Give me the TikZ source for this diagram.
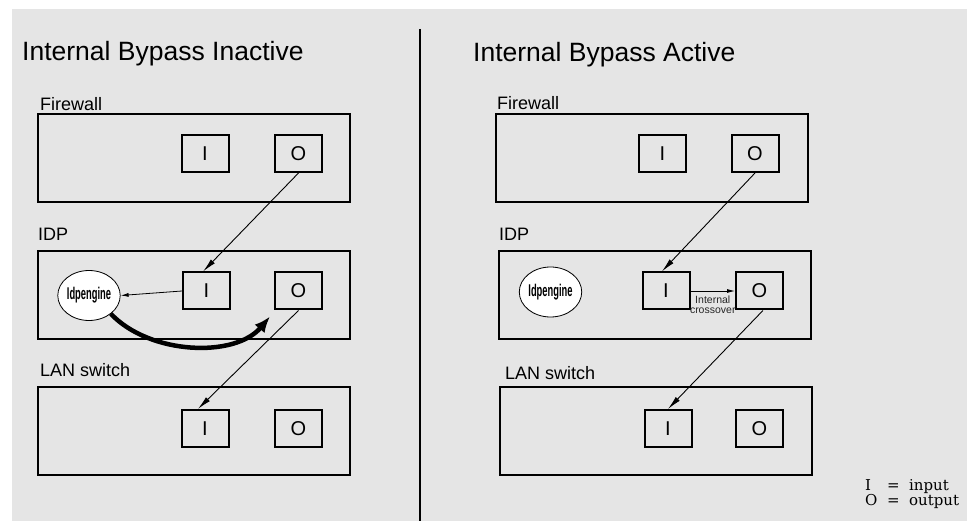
\documentclass[tikz,border=0pt]{standalone}
\usepackage{graphicx}
\usepackage{fontspec}
\setmainfont{Liberation Sans}
\newfontfamily\legendfont{DejaVu Serif}
\usetikzlibrary{arrows.meta, positioning, shapes.geometric}

\begin{document}
\begin{tikzpicture}[x=1pt, y=-1pt,
    device/.style={draw, line width=2pt, minimum width=312pt, minimum height=88pt, inner sep=0pt},
    port/.style={draw, line width=2pt, minimum width=47pt, minimum height=37pt, inner sep=0pt, font=\fontsize{20}{20}\selectfont},
    engine/.style={draw, ellipse, fill=white, line width=0.8pt, minimum width=62pt, minimum height=50pt, inner sep=0pt, font=\fontsize{17}{17}\selectfont\bfseries},
    devlabel/.style={inner sep=0pt, font=\fontsize{18}{18}\selectfont},
    title/.style={inner sep=0pt, anchor=base west, font=\fontsize{26.5}{26.5}\selectfont},
    link/.style={-{Latex[length=14pt,width=5.5pt]}, line width=0.9pt},
    shortlink/.style={-{Latex[length=8pt,width=4pt]}, line width=0.8pt},
    bypass/.style={-{Latex[length=16pt,width=13pt]}, line width=4.5pt}
]
\useasboundingbox (0,0) rectangle (967,521);
\fill[white] (0,0) rectangle (967,521);
\fill[black!10] (12,9) rectangle (967,521);

% Divider between the two cases
\draw[line width=2pt] (420,29) -- (420,521);

% Left: bypass inactive
\node[title] (title0) at (22,61) {Internal Bypass Inactive};

\node[device] (fw0) at (194,158.5) {};
\node[devlabel, above right=3pt and 3pt of fw0.north west] (fwlbl0) {Firewall};
\node[port] (fwI0) at (205,153.5) {I};
\node[port] (fwO0) at (298.5,153.5) {O};

\node[device] (idp0) at (194,295) {};
\node[devlabel, above right=9pt and 1pt of idp0.north west] (idplbl0) {IDP};
\node[port] (idpI0) at (206.5,291) {I};
\node[port] (idpO0) at (298.5,291) {O};
\node[engine] (eng0) at (89,295.5) {\scalebox{0.55}[1]{Idpengine}};

\node[device] (lan0) at (194,431) {};
\node[devlabel, above right=9pt and 3pt of lan0.north west] (lanlbl0) {LAN switch};
\node[port] (lanI0) at (205,428.5) {I};
\node[port] (lanO0) at (298.5,428.5) {O};

\draw[link] (fwO0.south) -- (idpI0.100);
\draw[shortlink] (idpI0.west) -- (eng0.east);
\draw[bypass] (eng0.-40) .. controls (150,355) and (235,358) .. ([shift={(-4,6)}]idpO0.south west);
\draw[link] (idpO0.south) -- (lanI0.110);

% Right: bypass active
\node[title] (title1) at (473,62) {Internal Bypass Active};

\node[device] (fw1) at (652,158.5) {};
\node[devlabel, above right=4pt and 2pt of fw1.north west] (fwlbl1) {Firewall};
\node[port] (fwI1) at (662.5,153.5) {I};
\node[port] (fwO1) at (755,153.5) {O};

\node[device] (idp1) at (655,295) {};
\node[devlabel, above right=9pt and 1pt of idp1.north west] (idplbl1) {IDP};
\node[port] (idpI1) at (666,291) {I};
\node[port] (idpO1) at (759.5,291) {O};
\node[engine] (eng1) at (550.5,292) {\scalebox{0.55}[1]{Idpengine}};

\node[device] (lan1) at (656,431) {};
\node[devlabel, above right=6pt and 6pt of lan1.north west] (lanlbl1) {LAN switch};
\node[port] (lanI1) at (668,428.5) {I};
\node[port] (lanO1) at (759.5,428.5) {O};

\draw[link] (fwO1.south) -- (idpI1.102);
\draw[shortlink] (idpI1.east) -- node[below=4pt, align=center, inner sep=0pt, text=black!85, font=\fontsize{10.5}{10.5}\selectfont] (xlbl1) {Internal\\crossover} (idpO1.west);
\draw[link] (idpO1.-80) -- (lanI1.north);

% Legend
\node[anchor=base west, inner sep=0pt, font=\legendfont\fontsize{15}{15}\selectfont] (legend) at (865,490)
    {\begin{tabular}[t]{@{}l@{\ \ =\ \ }l@{}} I & input\\ O & output\end{tabular}};
\end{tikzpicture}
\end{document}
